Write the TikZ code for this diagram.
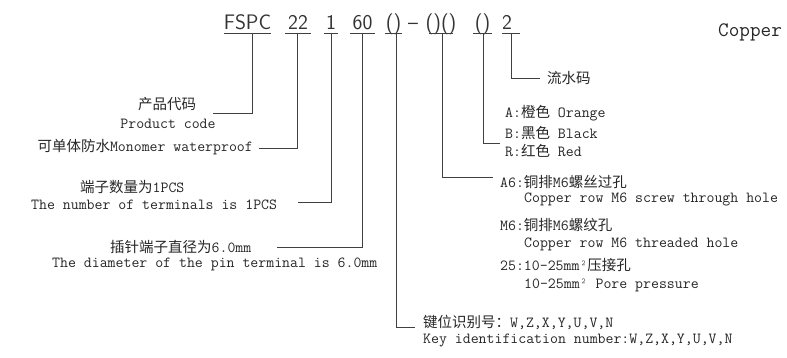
\documentclass[tikz,border=0pt]{standalone}
\usepackage{fontspec}
\newfontfamily\cjkf{Noto Sans CJK SC}
\newcommand{\cj}[1]{{\cjkf\fontsize{14.5}{16}\selectfont #1}}
\begin{document}
\begin{tikzpicture}[x=1pt,y=-1pt,
  txt/.style={inner sep=0pt, anchor=west, font=\ttfamily\fontsize{15.4}{17}\selectfont, text=black!85},
  ln/.style={line width=0.8pt, draw=black!75},
  hd/.style={inner sep=0pt, anchor=base, font=\sffamily\fontsize{21}{23}\selectfont, text=black!80}]
\useasboundingbox (0,0) rectangle (787,358);
% header
\node[hd] (h1) at (247.5,30) {FSPC};
\node[hd] (h2) at (298,30) {22};
\node[hd] (h3) at (331,30) {1};
\node[hd] (h4) at (362.5,30) {60};
\node[hd] (h5) at (393.5,30) {()};
\node[hd] (h6) at (413,30) {--};
\node[hd] (h7) at (441,30) {()()};
\node[hd] (h8) at (482.5,30) {()};
\node[hd] (h9) at (507,30) {2};
\node[inner sep=0pt, anchor=base west, font=\ttfamily\fontsize{20.6}{22}\selectfont, text=black!85] (cu) at (718,37) {Copper};
% underlines
\draw[ln] (224,33.3) -- (271,33.3);
\draw[ln] (285,33.3) -- (311,33.3);
\draw[ln] (324,33.3) -- (338,33.3);
\draw[ln] (350,33.3) -- (375,33.3);
\draw[ln] (385,33.3) -- (402,33.3);
\draw[ln] (429,33.3) -- (453,33.3);
\draw[ln] (473,33.3) -- (492,33.3);
\draw[ln] (502,33.3) -- (520,33.3);
% top coordinates of leaders
\coordinate (t1) at (252,33.3);
\coordinate (t2) at (297,33.3);
\coordinate (t3) at (331,33.3);
\coordinate (t4) at (362,33.3);
\coordinate (t5) at (396,33.3);
\coordinate (t6) at (442,33.3);
\coordinate (t7) at (483,33.3);
\coordinate (t8) at (511,33.3);
% free ends
\coordinate (e1) at (213,113);
\coordinate (e2) at (259,148);
\coordinate (e3) at (298,202);
\coordinate (e4) at (277,247);
\coordinate (e5) at (415,327);
\coordinate (e6) at (493,177);
\coordinate (e7) at (500,143);
\coordinate (e8) at (540,78);
% texts
\node[txt, anchor=center] (a1) at (167,104) {\cj{产品代码}};
\node[txt, anchor=center] (a2) at (168,124) {Product code};
\node[txt, anchor=east] (b1) at (253,147) {\cj{可单体防水}Monomer waterproof};
\node[txt] (c1) at (80,187) {\cj{端子数量为}1PCS};
\node[txt] (c2) at (31,205) {The number of terminals is 1PCS};
\node[txt] (d1) at (110,247) {\cj{插针端子直径为}6.0mm};
\node[txt] (d2) at (52,264) {The diameter of the pin terminal is 6.0mm};
\node[txt] (k1) at (423,322) {\cj{键位识别号：}W,Z,X,Y,U,V,N};
\node[txt] (k2) at (423,341) {Key identification number:W,Z,X,Y,U,V,N};
\node[txt] (m1) at (500,182) {A6:\cj{铜排}M6\cj{螺丝过孔}};
\node[txt] (m2) at (524,199) {Copper row M6 screw through hole};
\node[txt] (m3) at (500,225) {M6:\cj{铜排}M6\cj{螺纹孔}};
\node[txt] (m4) at (524,244) {Copper row M6 threaded hole};
\node[txt] (m5) at (500,265) {25:10-25mm²\cj{压接孔}};
\node[txt] (m6) at (524,285) {10-25mm² Pore pressure};
\node[txt] (r1) at (505,113) {A:\cj{橙色} Orange};
\node[txt] (r2) at (505,133) {B:\cj{黑色} Black};
\node[txt] (r3) at (505,151) {R:\cj{红色} Red};
\node[txt] (s1) at (547,78) {\cj{流水码}};
% leaders
\draw[ln] (t1) |- (e1);
\draw[ln] (t2) |- (e2);
\draw[ln] (t3) |- (e3);
\draw[ln] (t4) |- (e4);
\draw[ln] (t5) |- (e5);
\draw[ln] (t6) |- (e6);
\draw[ln] (t7) |- (e7);
\draw[ln] (t8) |- (e8);
\end{tikzpicture}
\end{document}
